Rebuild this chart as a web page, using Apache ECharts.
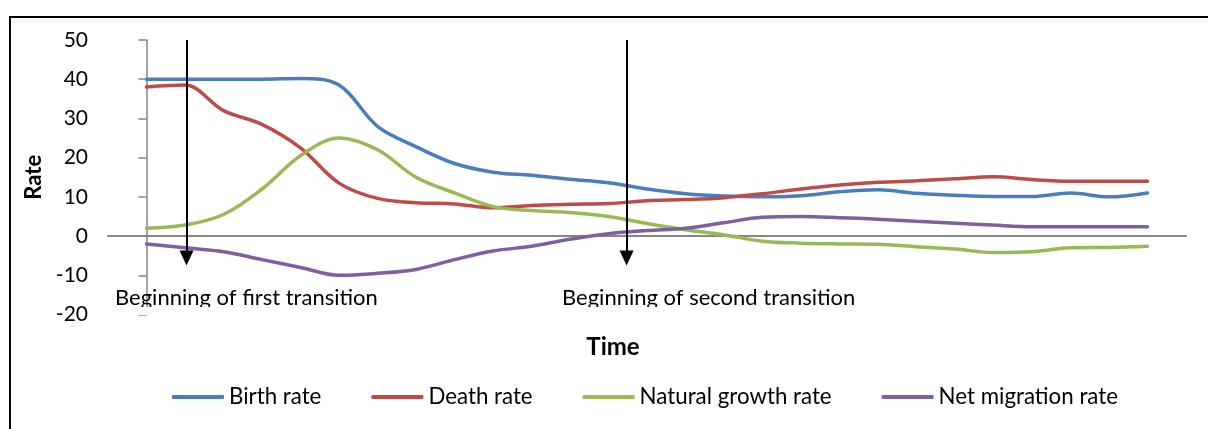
<!DOCTYPE html>
<html>
<head>
<meta charset="utf-8">
<script src="https://cdn.jsdelivr.net/npm/echarts@6/dist/echarts.min.js"></script>
<style>
  html, body { margin: 0; padding: 0; background: #fff; }
  #chart { width: 1208px; height: 429px; }
</style>
</head>
<body>
<div id="chart"></div>
<script>
// Time steps (no labels on the time axis)
const timeSteps = [0,1,2,3,4,5,6,7,8,9,10,11,12,13,14,15,16,17,18,19,20,21,22,23,24,25,26];

// Rates per time step
const birthRate = [40, 40, 40, 40, 40.2, 38.5, 28, 22.8, 18.5, 16.3, 15.5, 14.5, 13.6, 12, 10.8, 10.2, 10, 10.3, 11.3, 11.8, 10.9, 10.4, 10.1, 10.1, 11, 10, 11];
const deathRate = [38, 38.5, 32, 28.5, 22.5, 13.5, 9.6, 8.5, 8.2, 7.2, 7.8, 8.1, 8.3, 9, 9.3, 9.8, 10.8, 12, 13, 13.7, 14.1, 14.6, 15.1, 14.4, 14, 14, 14];
const naturalGrowthRate = [2, 2.8, 5.5, 12, 20.5, 25, 22, 15, 11, 7.5, 6.5, 6, 5, 3.2, 1.6, 0.3, -1.3, -1.8, -2, -2.1, -2.7, -3.3, -4.2, -4, -3, -2.9, -2.6];
const netMigrationRate = [-2, -3, -4, -6, -8, -10, -9.5, -8.5, -6, -3.8, -2.6, -0.8, 0.6, 1.4, 2, 3.4, 4.8, 5, 4.7, 4.3, 3.8, 3.3, 2.8, 2.4, 2.4, 2.4, 2.4];

const seriesNames = ['Birth rate', 'Death rate', 'Natural growth rate', 'Net migration rate'];
const seriesValues = [birthRate, deathRate, naturalGrowthRate, netMigrationRate];
const seriesColors = ['#4A7EBB', '#BE4B48', '#98B954', '#7D60A0'];

// Y axis ticks
const yTicks = [-20, -10, 0, 10, 20, 30, 40, 50];

// Transition markers: time position and caption
const transitions = [
  { time: 1.04, label: 'Beginning of first transition' },
  { time: 12.47, label: 'Beginning of second transition' }
];

const FONT = 'Lato, "Open Sans", sans-serif';

const chart = echarts.init(document.getElementById('chart'), null, { renderer: 'canvas' });

const series = seriesNames.map((name, i) => ({
  name: name,
  type: 'line',
  data: timeSteps.map((t, j) => [t, seriesValues[i][j]]),
  smooth: 0.35,
  showSymbol: false,
  symbol: 'none',
  lineStyle: { color: seriesColors[i], width: 3.5, cap: 'round' },
  itemStyle: { color: seriesColors[i] },
  z: 3
}));

// Arrows marking each transition start
series[0].markLine = {
  silent: true,
  symbol: ['none', 'triangle'],
  symbolSize: [14, 15],
  label: { show: false },
  lineStyle: { color: '#000', width: 2, type: 'solid' },
  z: 10,
  data: transitions.map(tr => [
    { coord: [tr.time, yTicks[yTicks.length - 1]] },
    { coord: [tr.time, -5.6] }
  ])
};

chart.setOption({
  animation: false,
  backgroundColor: '#fff',
  grid: { left: 108, right: 22, top: 40, bottom: 114.5, containLabel: false },
  xAxis: {
    type: 'value',
    min: -1,
    max: 27,
    axisLine: { onZero: true, lineStyle: { color: '#868686', width: 2 } },
    axisTick: { show: false },
    axisLabel: { show: false },
    splitLine: { show: false }
  },
  yAxis: {
    type: 'value',
    min: yTicks[0],
    max: yTicks[yTicks.length - 1],
    interval: 10,
    name: 'Rate',
    nameLocation: 'middle',
    nameGap: 61,
    nameRotate: 90,
    nameTextStyle: { fontFamily: FONT, fontSize: 22, fontWeight: 'bold', color: '#000' },
    axisLine: { show: true, lineStyle: { color: '#868686', width: 1.5 } },
    axisTick: { show: true, length: 8, lineStyle: { color: '#868686', width: 1.5 } },
    axisLabel: { color: '#000', fontFamily: FONT, fontSize: 21, margin: 20 },
    splitLine: { show: false }
  },
  legend: {
    data: seriesNames,
    left: 167,
    top: 381,
    icon: 'roundRect',
    itemWidth: 52,
    itemHeight: 4,
    itemGap: 50,
    textStyle: { fontFamily: FONT, fontSize: 22.3, color: '#000' }
  },
  graphic: [
    {
      type: 'rect',
      shape: { x: 10, y: 17, width: 1400, height: 600 },
      style: { fill: 'none', stroke: '#000', lineWidth: 2 },
      silent: true,
      z: 0
    },
    {
      type: 'text',
      x: 613, y: 347,
      style: { text: 'Time', fontFamily: FONT, fontSize: 24, fontWeight: 'bold', fill: '#000', align: 'center', verticalAlign: 'middle' },
      z: 5
    },
    {
      type: 'text',
      x: 115, y: 298,
      style: { text: transitions[0].label, fontFamily: FONT, fontSize: 22, fill: '#000', align: 'left', verticalAlign: 'middle' },
      z: 5
    },
    {
      type: 'text',
      x: 562, y: 298,
      style: { text: transitions[1].label, fontFamily: FONT, fontSize: 22, fill: '#000', align: 'left', verticalAlign: 'middle' },
      z: 5
    },
    // caption boxes are cut off just below the baseline
    {
      type: 'rect',
      shape: { x: 112, y: 307, width: 290, height: 8 },
      style: { fill: '#fff' },
      silent: true,
      z: 6
    },
    {
      type: 'rect',
      shape: { x: 558, y: 307, width: 320, height: 8 },
      style: { fill: '#fff' },
      silent: true,
      z: 6
    }
  ],
  series: series
});
</script>
</body>
</html>
